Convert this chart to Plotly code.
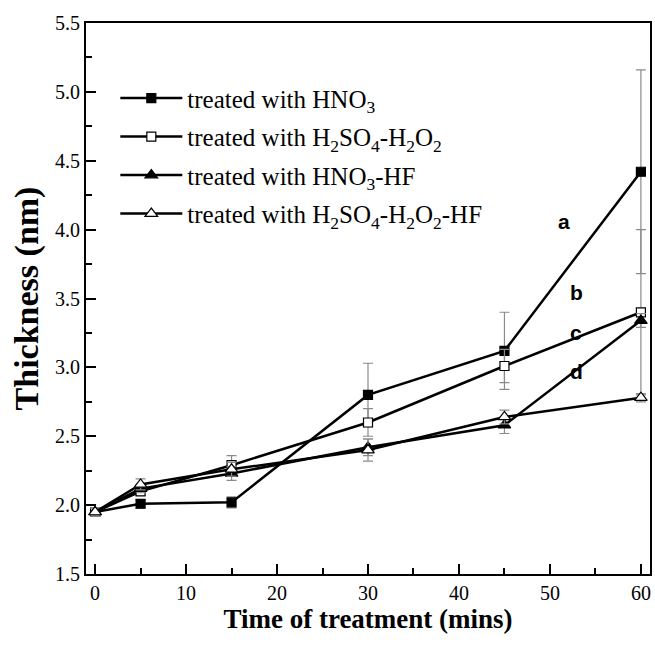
import plotly.graph_objects as go

time = [0, 5, 15, 30, 45, 60]
a_vals = [1.95, 2.01, 2.02, 2.80, 3.12, 4.42]
a_err = [0.03, 0.03, 0.04, 0.23, 0.28, 0.74]
b_vals = [1.95, 2.10, 2.29, 2.60, 3.01, 3.40]
b_err = [0.03, 0.03, 0.07, 0.10, 0.12, 0.60]
c_vals = [1.95, 2.12, 2.23, 2.42, 2.58, 3.34]
c_err = [0.03, 0.03, 0.05, 0.06, 0.06, 0.05]
d_vals = [1.95, 2.15, 2.26, 2.40, 2.64, 2.78]
d_err = [0.03, 0.04, 0.05, 0.08, 0.05, 0.03]

names = ["treated with HNO<sub>3</sub>",
         "treated with H<sub>2</sub>SO<sub>4</sub>-H<sub>2</sub>O<sub>2</sub>",
         "treated with HNO<sub>3</sub>-HF",
         "treated with H<sub>2</sub>SO<sub>4</sub>-H<sub>2</sub>O<sub>2</sub>-HF"]
labels = ["a", "b", "c", "d"]
label_x = [51.5, 52.9, 52.9, 52.9]
label_y = [4.06, 3.54, 3.25, 2.97]

series = [(a_vals, a_err, "square", "black", 9),
          (b_vals, b_err, "square", "white", 9),
          (c_vals, c_err, "triangle-up", "black", 11),
          (d_vals, d_err, "triangle-up", "white", 11)]

fig = go.Figure()
for i, ((vals, err, sym, fill, sz), nm) in enumerate(zip(series, names)):
    fig.add_trace(go.Scatter(
        x=time, y=vals, name=nm, mode="lines+markers", legendgroup="g%d" % i,
        line=dict(color="black", width=2.5),
        marker=dict(symbol=sym, size=sz, color=fill, line=dict(color="black", width=1.2)),
        error_y=dict(type="data", array=err, visible=True, color="#8a8a8a", thickness=1.2, width=5),
    ))

for lab, lx, ly in zip(labels, label_x, label_y):
    fig.add_annotation(x=lx, y=ly, text="<b>%s</b>" % lab, showarrow=False,
                       font=dict(family="Liberation Sans", size=21, color="black"))

fig.update_layout(
    width=655, height=645,
    margin=dict(l=86, r=3, t=23, b=71),
    paper_bgcolor="white", plot_bgcolor="white",
    font=dict(family="Liberation Serif", color="black"),
    showlegend=True,
    legend=dict(x=0.052, y=0.905, xanchor="left", yanchor="top",
                font=dict(family="Liberation Serif", size=25, color="black"),
                bgcolor="rgba(0,0,0,0)", itemwidth=62, tracegroupgap=3),
)
fig.update_xaxes(
    range=[-1, 61], dtick=10, tick0=0,
    showline=True, linecolor="black", linewidth=2, mirror=True,
    ticks="inside", ticklen=10, tickwidth=2, tickcolor="black",
    minor=dict(dtick=5, ticks="inside", ticklen=6, tickwidth=2, tickcolor="black"),
    showgrid=False, zeroline=False,
    tickfont=dict(family="Liberation Serif", size=20),
    title=dict(text="<b>Time of treatment (mins)</b>", font=dict(family="Liberation Serif", size=27), standoff=6),
)
fig.update_yaxes(
    range=[1.5, 5.5], dtick=0.5, tick0=1.5, tickformat=".1f",
    showline=True, linecolor="black", linewidth=2, mirror=True,
    ticks="inside", ticklen=10, tickwidth=2, tickcolor="black",
    minor=dict(dtick=0.25, ticks="inside", ticklen=6, tickwidth=2, tickcolor="black"),
    showgrid=False, zeroline=False,
    tickfont=dict(family="Liberation Serif", size=20),
    title=dict(text="<b>Thickness (nm)</b>", font=dict(family="Liberation Serif", size=34), standoff=6),
)
fig.write_html("out.html")
